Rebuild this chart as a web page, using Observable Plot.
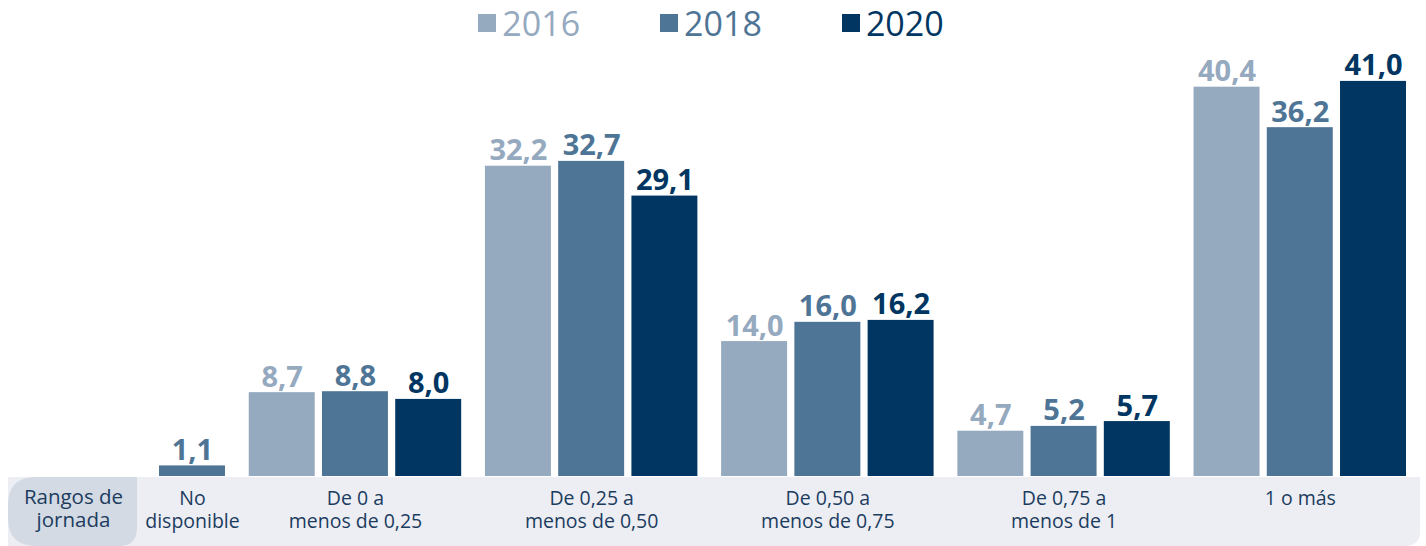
<!DOCTYPE html>
<html><head><meta charset="utf-8">
<script src="https://cdn.jsdelivr.net/npm/d3@7"></script>
<script src="https://cdn.jsdelivr.net/npm/@observablehq/plot@0.6"></script>
<style>
body{margin:0;background:#fff;font-family:"Open Sans",sans-serif;}
#legend{height:45px;display:flex;justify-content:center;align-items:center;gap:80px;padding-right:4px;}
.item{display:flex;align-items:center;font-size:34px;line-height:1;}
.sw{width:18px;height:18px;margin-right:6px;}
</style></head><body>
<div id="legend"></div><div id="chart"></div>
<script>
const categories = ["No\ndisponible","De 0 a\nmenos de 0,25","De 0,25 a\nmenos de 0,50","De 0,50 a\nmenos de 0,75","De 0,75 a\nmenos de 1","1 o más"];
const years = ["2016","2018","2020"];
const v2016 = [null, 8.7, 32.2, 14.0, 4.7, 40.4];
const v2018 = [1.1, 8.8, 32.7, 16.0, 5.2, 36.2];
const v2020 = [null, 8.0, 29.1, 16.2, 5.7, 41.0];
const axisTitle = "Rangos de\njornada";
const colors = ["#95a9bf","#4f7596","#003661"];

const series = [v2016, v2018, v2020];
const gap = 0.11, G = 0.36;
const bars = [], groups = [];
let cur = 0;
categories.forEach((c, i) => {
  const start = cur;
  years.forEach((y, j) => {
    const v = series[j][i];
    if (v == null) return;
    bars.push({cat: c, year: y, value: v, x1: cur, x2: cur + 1});
    cur += 1 + gap;
  });
  const end = cur - gap;
  groups.push({cat: c, xc: (start + end) / 2});
  cur = end + G;
});
const total = cur - G;
const fmt = v => d3.format(".1f")(v).replace(".", ",");

const leg = document.getElementById("legend");
years.forEach((y, j) => {
  const it = document.createElement("div");
  it.className = "item";
  it.style.color = colors[j];
  it.innerHTML = `<div class="sw" style="background:${colors[j]}"></div><span>${y}</span>`;
  leg.appendChild(it);
});

function band(index, scales, values, dim) {
  const g = d3.create("svg:g");
  const top = dim.height - dim.marginBottom + 1, bot = dim.height;
  const xl = 8, xr = dim.width - 6, xb = 137;
  const r = 15;
  g.append("path").attr("fill", "#eceef4")
    .attr("d", `M${xl},${top}H${xr}V${bot - r}Q${xr},${bot} ${xr - r},${bot}H${xl}Z`);
  const R = 28, r2 = 18;
  g.append("path").attr("fill", "#d3dae4")
    .attr("d", `M${xl + R},${top}H${xb}V${bot - r2}Q${xb},${bot} ${xb - r2},${bot}H${xl + R}Q${xl},${bot} ${xl},${bot - R}V${top + R}Q${xl},${top} ${xl + R},${top}Z`);
  g.append("text").attr("x", (xl + xb) / 2 + 1).attr("y", top + 12)
    .attr("text-anchor", "middle").attr("fill", "#1c3c5e")
    .attr("font-size", 20.5).attr("font-family", "Open Sans")
    .selectAll("tspan").data(axisTitle.split("\n")).join("tspan")
    .attr("x", (xl + xb) / 2 + 1).attr("dy", (d, i) => i ? "1.12em" : "0.71em").text(d => d);
  return g.node();
}

const plot = Plot.plot({
  width: 1426, height: 501,
  marginLeft: 159, marginRight: 20, marginTop: 7, marginBottom: 70,
  style: {background: "transparent", overflow: "visible"},
  x: {domain: [0, total], axis: null},
  y: {domain: [0, 44], axis: null},
  color: {domain: years, range: colors},
  marks: [
    band,
    Plot.rectY(bars, {x1: "x1", x2: "x2", y: "value", fill: "year"}),
    Plot.text(bars, {x: d => (d.x1 + d.x2) / 2, y: "value", text: d => fmt(d.value), fill: "year",
      lineAnchor: "bottom", dy: -6, fontSize: 29, fontWeight: "bold", fontFamily: "Open Sans", style: {letterSpacing: "1px"}}),
    Plot.text(groups, {x: "xc", y: 0, text: "cat", lineAnchor: "top", dy: 12, lineHeight: 1.18,
      fill: "#1c3c5e", fontSize: 19.5, fontFamily: "Open Sans"})
  ]
});
document.getElementById("chart").appendChild(plot);
</script>
</body></html>
